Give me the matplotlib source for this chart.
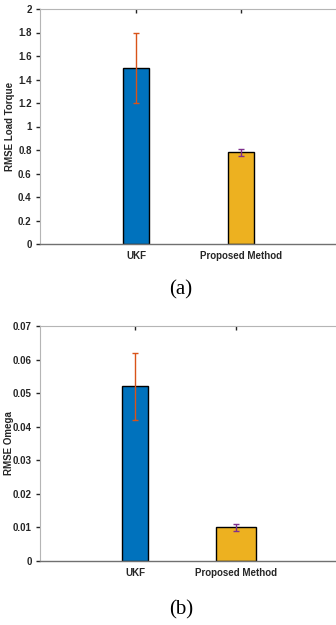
import numpy as np
import matplotlib
matplotlib.use("Agg")
import matplotlib.pyplot as plt

plt.rcParams['font.family'] = ['Liberation Sans', 'DejaVu Sans']

methods = ['UKF', 'Proposed Method']
torque_rmse = [1.5, 0.78]
torque_err = [0.3, 0.03]
omega_rmse = [0.052, 0.010]
omega_err = [0.010, 0.001]

bar_colors = ['#0072BD', '#EDB120']
err_colors = ['#D95319', '#7E2F8E']

fig = plt.figure(figsize=(3.36, 6.25), dpi=100)
ax1 = fig.add_axes([40/336, 1-244/625, 297/336, 235/625])
ax2 = fig.add_axes([40/336, 1-561/625, 297/336, 235/625])

x = np.arange(1, len(methods) + 1)


def draw(ax, vals, errs, widths, ylim, yticks, ylabels, ylabel, xlim, lab_x):
    for i in range(len(vals)):
        ax.bar(x[i], vals[i], width=widths[i], color=bar_colors[i],
               edgecolor='black', linewidth=1, zorder=2)
        ax.errorbar(x[i], vals[i], yerr=errs[i], color=err_colors[i],
                    capsize=2.5, elinewidth=1, capthick=1, zorder=3)
    ax.set_xlim(*xlim)
    ax.set_ylim(*ylim)
    ax.set_yticks(yticks)
    ax.set_yticklabels(ylabels, fontsize=7, fontweight='bold', color='#262626')
    ax.set_xticks(x)
    ax.set_xticklabels(methods, fontsize=7, fontweight='bold', color='#262626')
    ax.tick_params(axis='y', direction='out', length=3, width=1, pad=3,
                   right=True, color='#262626')
    ax.tick_params(axis='x', direction='in', length=3, width=1, pad=5,
                   top=True, color='#262626')
    for s in ['left', 'top', 'right']:
        ax.spines[s].set_color('#b5b5b5')
    ax.spines['bottom'].set_color('#707070')
    ax.spines['bottom'].set_linewidth(1)
    ax.set_ylabel(ylabel, fontsize=7, fontweight='bold', color='#262626')
    ax.yaxis.set_label_coords(lab_x, 0.5)


t_ticks = np.arange(0, 2.01, 0.2)
t_labels = ['0', '0.2', '0.4', '0.6', '0.8', '1', '1.2', '1.4', '1.6', '1.8', '2']
draw(ax1, torque_rmse, torque_err, [0.25, 0.25], (0, 2), t_ticks, t_labels,
     'RMSE Load Torque', (0.086, 2.914), -0.084)

o_ticks = np.arange(0, 0.0701, 0.01)
o_labels = ['0', '0.01', '0.02', '0.03', '0.04', '0.05', '0.06', '0.07']
draw(ax2, omega_rmse, omega_err, [0.26, 0.40], (0, 0.07), o_ticks, o_labels,
     'RMSE Omega', (0.06, 3.0), -0.088)

fig.text(181/336, 1-290/625, '(a)', family='Liberation Serif', fontsize=15,
         ha='center', va='center')
fig.text(181/336, 1-610/625, '(b)', family='Liberation Serif', fontsize=15,
         ha='center', va='center')

fig.savefig('out.png', dpi=100)
